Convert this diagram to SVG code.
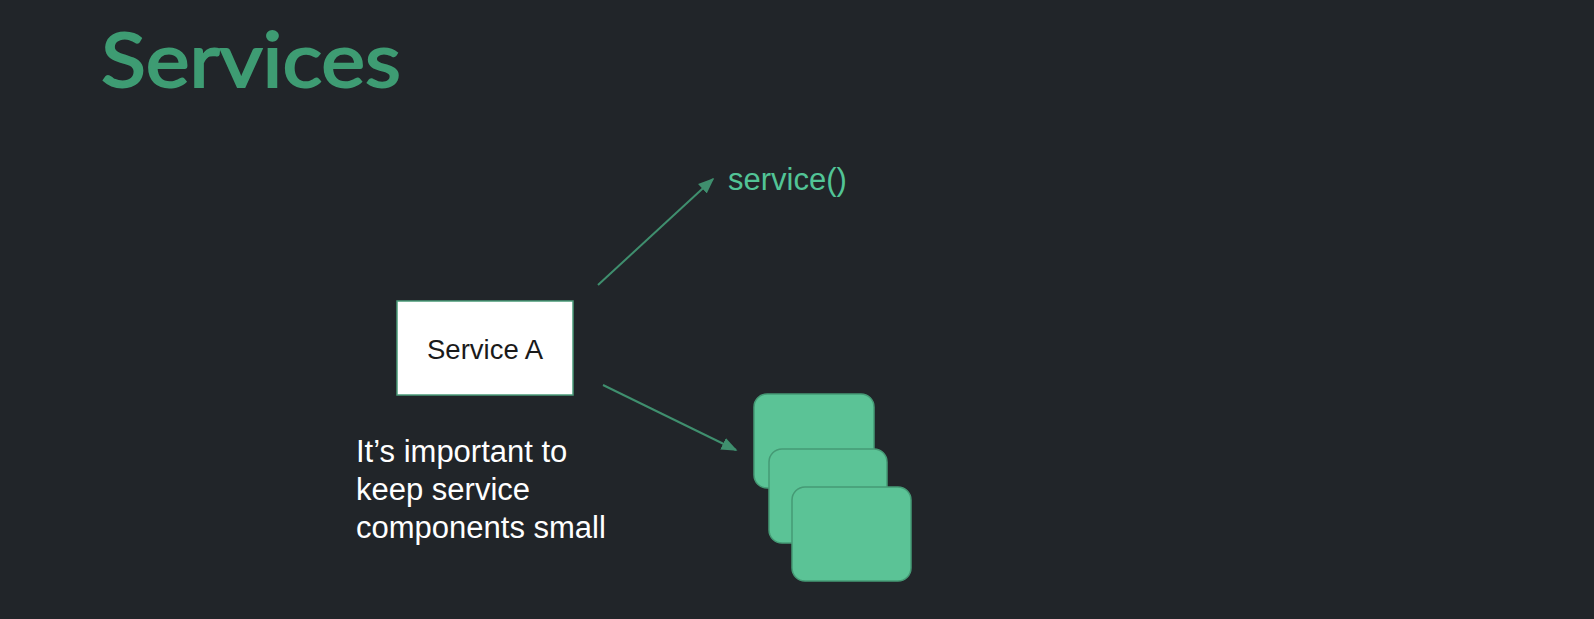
<svg xmlns="http://www.w3.org/2000/svg" width="1594" height="619" viewBox="0 0 1594 619">
<defs>
<style>
.t{font-family:"Liberation Sans",Arial,sans-serif}
.conn{stroke:#3f8f6e;stroke-width:2;fill:none}
.stack{fill:#5bc396;stroke:#459a75;stroke-width:1.5}
</style>
<marker id="ah2" viewBox="0 0 10 10" refX="9" refY="5" markerWidth="16" markerHeight="16" markerUnits="userSpaceOnUse" orient="auto">
<path d="M0,1 L10,5 L0,9 z" fill="#3f8f6e"/>
</marker>
</defs>
<rect width="1594" height="619" fill="#212529"/>
<text x="101" y="87" font-family="Lato,'Noto Sans',sans-serif" font-size="76" font-weight="400" fill="#3e9c73" stroke="#3e9c73" stroke-width="2" textLength="300" lengthAdjust="spacingAndGlyphs">Services</text>
<g id="connectors">
<line class="conn" x1="598" y1="285" x2="713" y2="179" marker-end="url(#ah2)"/>
<line class="conn" x1="603" y1="385" x2="736" y2="450" marker-end="url(#ah2)"/>
</g>
<g id="service-a">
<rect x="397" y="301" width="176" height="94" fill="#ffffff" stroke="#4a9a78" stroke-width="1.5"/>
<text class="t" x="427" y="359" font-size="27.5" fill="#1a1a1a">Service A</text>
</g>
<g id="service-call">
<text class="t" x="728" y="190" font-size="31" fill="#52c496">service()</text>
</g>
<g id="components">
<rect class="stack" x="754" y="394" width="120" height="94" rx="13"/>
<rect class="stack" x="769" y="449" width="118" height="94" rx="13"/>
<rect class="stack" x="792" y="487" width="119" height="94" rx="13"/>
</g>
<g id="note">
<text class="t" font-size="31" fill="#ffffff">
<tspan x="356" y="462">It’s important to</tspan>
<tspan x="356" y="500">keep service</tspan>
<tspan x="356" y="538">components small</tspan>
</text>
</g>
</svg>
